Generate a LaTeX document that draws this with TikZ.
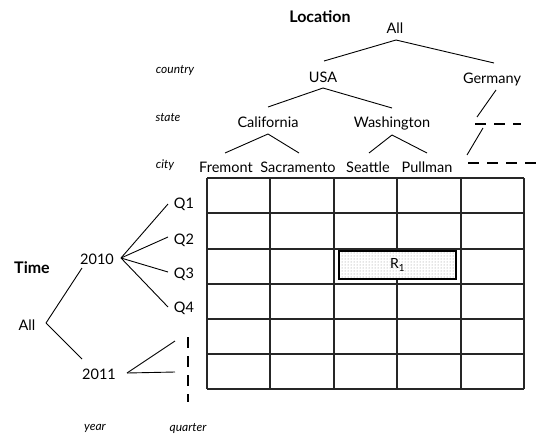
\documentclass[tikz,border=0pt]{standalone}
\usepackage{fontspec}
\setmainfont{Lato}
\usetikzlibrary{patterns}
\tikzset{
  lbl/.style={inner sep=0pt, font=\fontsize{14.5}{16}\selectfont},
  lvl/.style={inner sep=0pt, font=\fontsize{12}{14}\selectfont\itshape},
  ttl/.style={inner sep=0pt, font=\fontsize{16}{18}\selectfont\bfseries},
  edge/.style={draw=black, line width=0.9pt},
  dashline/.style={draw=black, line width=2.4pt, dash pattern=on 11pt off 8pt},
  gridline/.style={draw=black!85, line width=1.1pt},
}
\begin{document}
\begin{tikzpicture}[x=1pt,y=-1pt]
\useasboundingbox (0,0) rectangle (537,439);
% Location tree
\node[ttl] (loc) at (320,17) {Location};
\node[lbl] (allT) at (395,28) {All};
\node[lvl] (country) at (175,71) {country};
\node[lvl] (state) at (168,118) {state};
\node[lvl] (city) at (165,165) {city};
\node[lbl] (usa) at (323,77) {USA};
\node[lbl] (ger) at (492,79) {Germany};
\node[lbl] (cal) at (268,122) {California};
\node[lbl] (wash) at (392,123) {Washington};
\node[lbl] (fre) at (226,167) {Fremont};
\node[lbl] (sac) at (298,167) {Sacramento};
\node[lbl] (sea) at (368,167) {Seattle};
\node[lbl] (pul) at (427,167) {Pullman};
\draw[edge] ([shift={(1,12)}]allT.center) -- ([shift={(1,-16)}]usa.center);
\draw[edge] ([shift={(1,12)}]allT.center) -- ([shift={(2,-16)}]ger.center);
\draw[edge] ([shift={(0,11)}]usa.center) -- ([shift={(0,-15)}]cal.center);
\draw[edge] ([shift={(0,11)}]usa.center) -- ([shift={(0,-15)}]wash.center);
\draw[edge] ([shift={(4,11)}]ger.center) -- ([shift={(-15,38)}]ger.center);
\coordinate (gs1) at (475,124);
\coordinate (gs2) at (521,124);
\draw[dashline] (gs1) -- (gs2);
\draw[edge] ([shift={(-9,49)}]ger.center) -- ([shift={(-25,76)}]ger.center);
\coordinate (gc1) at (468,163);
\coordinate (gc2) at (540,163);
\draw[dashline] (gc1) -- (gc2);
\draw[edge] ([shift={(0,12)}]cal.center) -- ([shift={(-1,-14)}]fre.center);
\draw[edge] ([shift={(0,12)}]cal.center) -- ([shift={(1,-14)}]sac.center);
\draw[edge] ([shift={(0,12)}]wash.center) -- ([shift={(1,-14)}]sea.center);
\draw[edge] ([shift={(0,12)}]wash.center) -- ([shift={(0,-14)}]pul.center);
% Time tree
\node[ttl] (time) at (32,268) {Time};
\node[lbl] (allL) at (27,325) {All};
\node[lbl] (y10) at (97,259) {2010};
\node[lbl] (y11) at (99,374) {2011};
\node[lbl] (q1) at (184,204) {Q1};
\node[lbl] (q2) at (184,240) {Q2};
\node[lbl] (q3) at (184,274) {Q3};
\node[lbl] (q4) at (184,308) {Q4};
\node[lvl] (year) at (95,428) {year};
\node[lvl] (quarter) at (188,428) {quarter};
\draw[edge] ([shift={(19,-2)}]allL.center) -- ([shift={(-15,9)}]y10.center);
\draw[edge] ([shift={(19,-2)}]allL.center) -- ([shift={(-17,-15)}]y11.center);
\draw[edge] ([shift={(24,-1)}]y10.center) -- ([shift={(-16,0)}]q1.center);
\draw[edge] ([shift={(24,-1)}]y10.center) -- ([shift={(-16,-3)}]q2.center);
\draw[edge] ([shift={(24,-1)}]y10.center) -- ([shift={(-16,-2)}]q3.center);
\draw[edge] ([shift={(24,-1)}]y10.center) -- ([shift={(-16,-1)}]q4.center);
\coordinate (t1) at (175,341);
\coordinate (t2) at (175,372);
\draw[edge] ([shift={(28,-1)}]y11.center) -- (t1);
\draw[edge] ([shift={(28,-1)}]y11.center) -- (t2);
\coordinate (v1) at (188,337);
\coordinate (v2) at (188,402);
\draw[dashline] (v1) -- (v2);
% Grid
\foreach \x in {207,270,334,397,461,524} \draw[gridline] (\x,178) -- (\x,389);
\foreach \y in {178,213,249,284,319,354,389} \draw[gridline] (207,\y) -- (524,\y);
\node[draw=black, line width=1.1pt, fill=white, minimum width=117pt, minimum height=28pt, inner sep=0pt] (r1bg) at (397.5,265) {};
\node[draw=black, line width=1.1pt, pattern=dots, pattern color=black!45, minimum width=117pt, minimum height=28pt, inner sep=0pt, font=\fontsize{14}{16}\selectfont] (r1) at (397.5,265) {R\textsubscript{1}};
\end{tikzpicture}
\end{document}
